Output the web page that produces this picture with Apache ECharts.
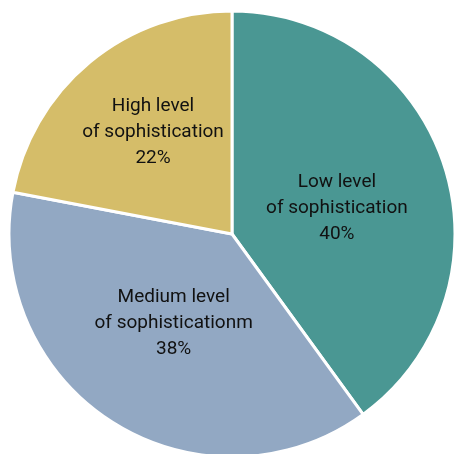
<!DOCTYPE html>
<html><head><meta charset="utf-8">
<script src="https://cdn.jsdelivr.net/npm/echarts@6/dist/echarts.min.js"></script>
<style>html,body{margin:0;padding:0;background:#fff}#c{width:454px;height:454px}</style>
</head><body><div id="c"></div>
<script>
const categories = ["Low level\nof sophistication", "Medium level\nof sophisticationm", "High level\nof sophistication"];
const values = [40, 38, 22];
const colors = ["#4a9793", "#92a8c3", "#d5bd69"];
const labelOffsets = [[-4, 10], [3, -7], [-6, -14]];
const chart = echarts.init(document.getElementById('c'), null, {renderer: 'canvas'});
chart.setOption({
  animation: false,
  series: [{
    type: 'pie',
    center: [232, 234],
    radius: [0, 223],
    startAngle: 90,
    clockwise: true,
    itemStyle: {borderColor: '#fff', borderWidth: 3},
    label: {
      position: 'inside',
      fontFamily: 'Roboto',
      fontSize: 19,
      lineHeight: 26,
      color: '#111',
      formatter: p => p.name + '\n' + p.value + '%'
    },
    labelLine: {show: false},
    emphasis: {disabled: true},
    data: categories.map((n, i) => ({
      name: n, value: values[i],
      itemStyle: {color: colors[i]},
      label: {offset: labelOffsets[i]}
    }))
  }]
});
</script></body></html>
